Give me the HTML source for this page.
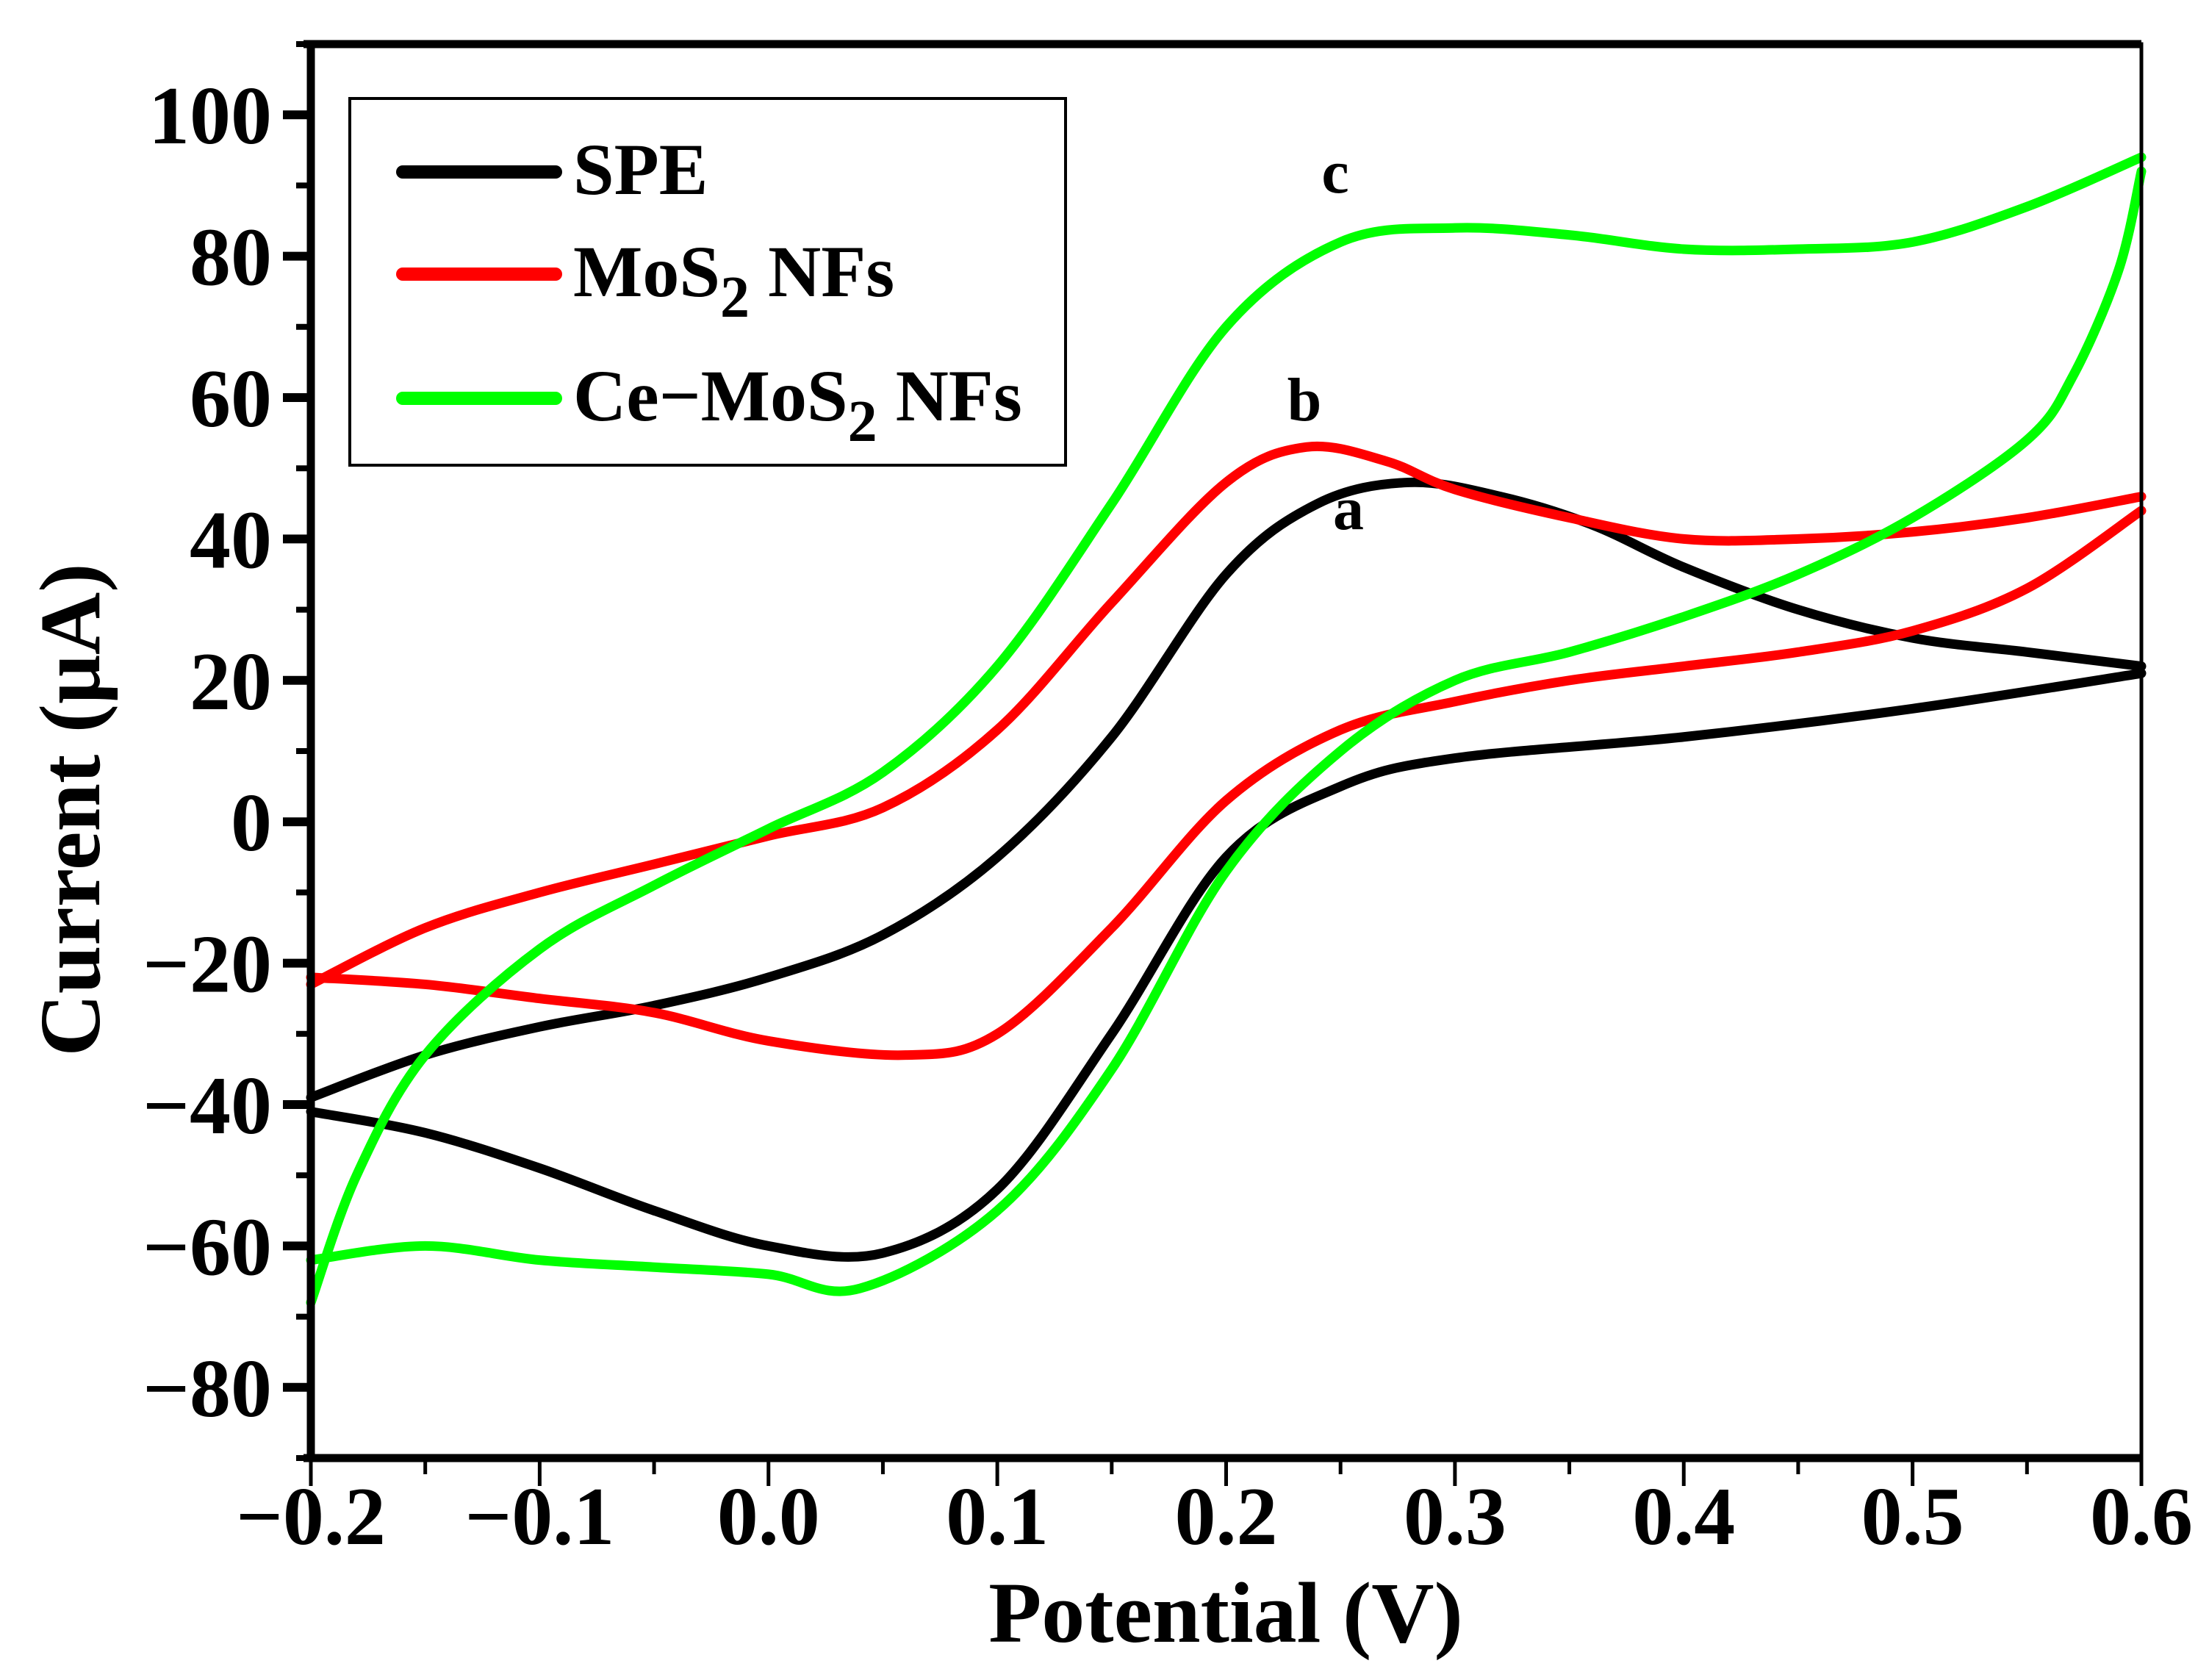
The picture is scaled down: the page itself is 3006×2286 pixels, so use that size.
<!DOCTYPE html>
<html><head><meta charset="utf-8"><style>
html,body{margin:0;padding:0;background:#fff;}
svg{display:block;font-family:"Liberation Serif",serif;font-weight:bold;}
</style></head><body>
<svg id="chart" width="3006" height="2286" viewBox="0 0 3006 2286">
<g id="plot"></g>
</svg>
<script>
const xTicks=[-0.2,-0.1,0.0,0.1,0.2,0.3,0.4,0.5,0.6];
const xTickLabels=["\u22120.2","\u22120.1","0.0","0.1","0.2","0.3","0.4","0.5","0.6"];
const yTicks=[-80,-60,-40,-20,0,20,40,60,80,100];
const yTickLabels=["\u221280","\u221260","\u221240","\u221220","0","20","40","60","80","100"];
const speFwdX=[-0.2,-0.15,-0.1,-0.05,0,0.05,0.1,0.15,0.2,0.24,0.28,0.32,0.36,0.4,0.45,0.5,0.55,0.6];
const speFwdY=[-39,-33,-29,-26,-22,-16,-5,12,35,45,48,46,42,36,30,26,24,22];
const speRevX=[0.6,0.5,0.4,0.3,0.25,0.2,0.15,0.1,0.05,0,-0.05,-0.1,-0.15,-0.2];
const speRevY=[21,16,12,9,5,-5,-30,-52,-61,-60,-55,-49,-44,-41];
const mosFwdX=[-0.2,-0.15,-0.1,-0.05,0,0.05,0.1,0.15,0.2,0.235,0.27,0.3,0.35,0.4,0.45,0.5,0.55,0.6];
const mosFwdY=[-23,-15,-10,-6,-2,2,13,31,48,53,51,47,43,40,40,41,43,46];
const mosRevX=[0.6,0.55,0.5,0.45,0.4,0.35,0.3,0.25,0.2,0.15,0.1,0.06,0,-0.05,-0.1,-0.15,-0.2];
const mosRevY=[44,33,27,24,22,20,17,13,3,-15,-30,-33,-31,-27,-25,-23,-22];
const ceFwdX=[-0.2,-0.18,-0.15,-0.1,-0.05,0,0.05,0.1,0.15,0.2,0.25,0.3,0.35,0.4,0.45,0.5,0.55,0.6];
const ceFwdY=[-68,-50,-33,-18,-9,-1,7,22,45,70,82,84,83,81,81,82,87,94];
const ceRevX=[0.6,0.59,0.57,0.55,0.5,0.45,0.4,0.35,0.3,0.25,0.2,0.15,0.1,0.04,0,-0.05,-0.1,-0.15,-0.2];
const ceRevY=[92,78,63,54,43,35,29,24,20,10,-7,-35,-55,-66,-64,-63,-62,-60,-62];

const X0=423,X1=2914,Y0=1984,Y1=60,xmin=-0.2,xmax=0.6,ymin=-90,ymax=110;
function sx(v){return X0+(v-xmin)/(xmax-xmin)*(X1-X0);}
function sy(v){return Y0-(v-ymin)/(ymax-ymin)*(Y0-Y1);}
const NS="http://www.w3.org/2000/svg";
const g=document.getElementById('plot');
function mk(tag,attrs,parent){const e=document.createElementNS(NS,tag);for(const k in attrs)e.setAttribute(k,attrs[k]);(parent||g).appendChild(e);return e;}
function smooth(xs,ys){
  const p=xs.map((x,i)=>[sx(x),sy(ys[i])]);
  let d="M"+p[0][0]+","+p[0][1];
  for(let i=0;i<p.length-1;i++){
    const p0=p[i-1]||p[i],p1=p[i],p2=p[i+1],p3=p[i+2]||p2;
    const c1=[p1[0]+(p2[0]-p0[0])/6,p1[1]+(p2[1]-p0[1])/6];
    const c2=[p2[0]-(p3[0]-p1[0])/6,p2[1]-(p3[1]-p1[1])/6];
    d+=" C"+c1[0]+","+c1[1]+" "+c2[0]+","+c2[1]+" "+p2[0]+","+p2[1];
  }
  return d;
}
function curve(xs,ys,color,name){
  const e=mk('path',{d:smooth(xs,ys),fill:'none',stroke:color,'stroke-width':13,'stroke-linecap':'round','stroke-linejoin':'round'});
  
  
}
curve(speFwdX,speFwdY,'#000','spe-forward-curve');
curve(speRevX,speRevY,'#000','spe-reverse-curve');
curve(mosFwdX,mosFwdY,'#ff0000','mos2-forward-curve');
curve(mosRevX,mosRevY,'#ff0000','mos2-reverse-curve');
curve(ceFwdX,ceFwdY,'#00ff00','ce-mos2-forward-curve');
curve(ceRevX,ceRevY,'#00ff00','ce-mos2-reverse-curve');

let a=mk('rect',{x:X0,y:Y1,width:X1-X0,height:Y0-Y1,fill:'none',stroke:'#000','stroke-width':5});

a=mk('line',{x1:X0-10,y1:Y1,x2:X1,y2:Y1,stroke:'#000','stroke-width':11});

a=mk('line',{x1:X0,y1:Y1-5,x2:X0,y2:Y0,stroke:'#000','stroke-width':11});

a=mk('line',{x1:X0-10,y1:Y0,x2:X1,y2:Y0,stroke:'#000','stroke-width':11});


for(let v=-0.2;v<=0.6001;v+=0.05){
  const major=Math.abs(Math.round(v*10)-v*10)<1e-6;
  const t=mk('line',{x1:sx(v),y1:Y0,x2:sx(v),y2:Y0+(major?38:22),stroke:'#000','stroke-width':5});
  
}
xTicks.forEach((v,i)=>{
  const t=mk('text',{x:sx(v),y:2101,'text-anchor':'middle','font-size':112});
  t.textContent=xTickLabels[i];
  
});
for(let v=-90;v<=110;v+=10){
  const major=v%20===0;
  const t=mk('line',{x1:X0,y1:sy(v),x2:X0-(major?38:20),y2:sy(v),stroke:'#000','stroke-width':major?12:8});
  
}
yTicks.forEach((v,i)=>{
  const t=mk('text',{x:370,y:sy(v)+39,'text-anchor':'end','font-size':112});
  t.textContent=yTickLabels[i];
  
});
let t=mk('text',{x:1668,y:2234,'text-anchor':'middle','font-size':118});
t.textContent='Potential (V)';

t=mk('text',{x:0,y:0,'text-anchor':'middle','font-size':118,transform:'translate(135,1102) rotate(-90)'});
t.textContent='Current (\u03bcA)';


[['a',1835,720],['b',1775,572],['c',1817,262]].forEach(l=>{
  const e=mk('text',{x:l[1],y:l[2],'text-anchor':'middle','font-size':84});
  e.textContent=l[0];
  
});

const lg=mk('g',{});

let r=mk('rect',{x:476,y:134,width:974,height:499,fill:'#fff',stroke:'#000','stroke-width':4},lg);

const legColors=['#000','#ff0000','#00ff00'];
const legY=[234,373,542];
const legHtml=[['SPE'],['MoS','2',' NFs'],['Ce\u2212MoS','2',' NFs']];
legHtml.forEach((parts,i)=>{
  const l=mk('line',{x1:548,y1:legY[i],x2:756,y2:legY[i],stroke:legColors[i],'stroke-width':18,'stroke-linecap':'round'},lg);
  
  const tx=mk('text',{x:780,y:legY[i]+30,'font-size':100},lg);
  
  tx.appendChild(document.createTextNode(parts[0]));
  if(parts.length>1){
    const s=mk('tspan',{dy:28,'font-size':80},tx);s.textContent=parts[1];
    const s2=mk('tspan',{dy:-28},tx);s2.textContent=parts[2];
  }
});
</script>
</body></html>
